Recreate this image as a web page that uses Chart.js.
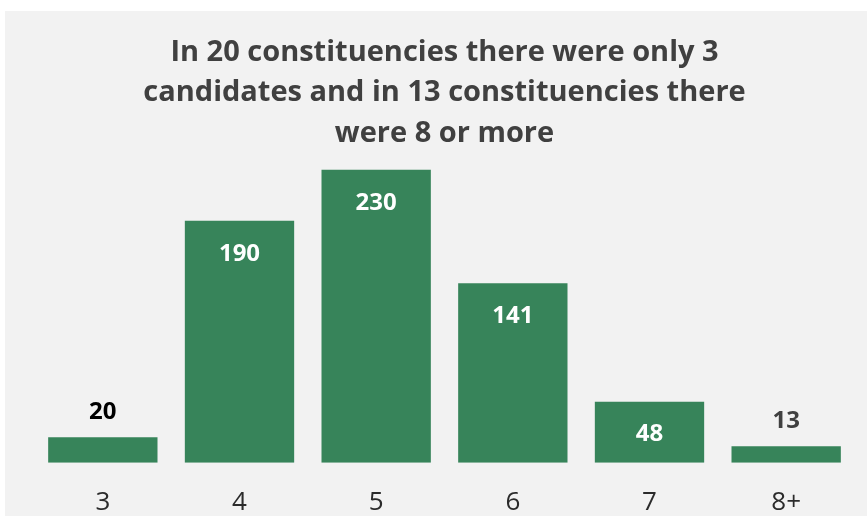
<!DOCTYPE html>
<html>
<head>
<meta charset="utf-8">
<script src="https://cdn.jsdelivr.net/npm/chart.js@4"></script>
<style>
  html, body { margin: 0; padding: 0; background: #ffffff; }
  #wrap { width: 867px; height: 516px; position: relative; }
</style>
</head>
<body>
<div id="wrap"><canvas id="chart"></canvas></div>
<script>
// number of candidates standing -> number of constituencies
const categories = ['3', '4', '5', '6', '7', '8+'];
const constituencies = [20, 190, 230, 141, 48, 13];
const titleLines = [
    'In 20 constituencies there were only 3',
    'candidates and in 13 constituencies there',
    'were 8 or more'
];

const green = '#37845a';

// grey panel behind the chart
const panel = {
    id: 'panel',
    beforeDraw(chart) {
        const ctx = chart.ctx;
        ctx.save();
        ctx.fillStyle = '#ffffff';
        ctx.fillRect(0, 0, chart.width, chart.height);
        ctx.fillStyle = '#f2f2f2';
        ctx.fillRect(5, 11, chart.width - 5, chart.height - 11);
        ctx.restore();
    }
};

// value labels: inside tall bars, above short ones
const valueLabels = {
    id: 'valueLabels',
    afterDatasetsDraw(chart) {
        const ctx = chart.ctx;
        const meta = chart.getDatasetMeta(0);
        ctx.save();
        ctx.font = 'bold 24px "Open Sans"';
        ctx.textAlign = 'center';
        ctx.textBaseline = 'middle';
        meta.data.forEach((bar, i) => {
            const v = constituencies[i];
            if (v < 30) {
                ctx.fillStyle = i === 0 ? '#000000' : '#404040';
                ctx.fillText(v, bar.x, bar.y - 25);
            } else {
                ctx.fillStyle = '#ffffff';
                ctx.fillText(v, bar.x, bar.y + 33);
            }
        });
        ctx.restore();
    }
};

new Chart(document.querySelector('#chart'), {
    type: 'bar',
    data: {
        labels: categories,
        datasets: [{
            data: constituencies,
            backgroundColor: green,
            borderWidth: 0,
            barPercentage: 0.8,
            categoryPercentage: 1
        }]
    },
    options: {
        responsive: true,
        maintainAspectRatio: false,
        animation: false,
        layout: {
            padding: { left: 34.5, right: 12.5, top: 0, bottom: -18 }
        },
        plugins: {
            legend: { display: false },
            tooltip: { enabled: false },
            title: {
                display: true,
                text: titleLines,
                color: '#404040',
                font: { family: 'Open Sans', size: 29, weight: 'bold', lineHeight: 1.4 },
                padding: { top: 32, bottom: 0 }
            }
        },
        scales: {
            x: {
                grid: { display: false },
                border: { display: false },
                ticks: {
                    color: '#2b2b2b',
                    padding: 16,
                    font: { family: 'Open Sans', size: 26 }
                }
            },
            y: {
                display: false,
                min: 0,
                max: 242.5
            }
        }
    },
    plugins: [panel, valueLabels]
});
</script>
</body>
</html>
